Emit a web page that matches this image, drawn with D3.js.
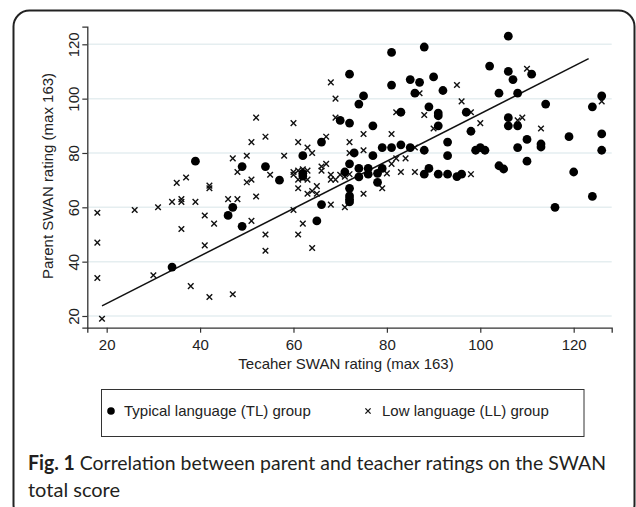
<!DOCTYPE html>
<html lang="en">
<head>
  <meta charset="UTF-8">
  <title>SWAN correlation</title>
  <style>
    body { margin: 0; background: #fff; }
    svg text { font-family: "Liberation Sans", Arial, sans-serif; fill: #222; }
    .caption { font-family: Lato, "Open Sans", sans-serif; font-size: 20px; fill: #231f20; }
  </style>
  <script src="https://cdn.jsdelivr.net/npm/d3@7"></script>
</head>
<body>
<svg id="chart" width="636" height="507"></svg>
<script>
// typical language group (TL), [teacher, parent]
var tlPoints = [
  [39, 77], [49, 75], [54, 75], [57, 70], [47, 60], [46, 57], [49, 53], [34, 38],
  [62, 79], [62, 72.5], [62, 71.5], [66, 84], [65, 55], [66, 61],
  [72, 109], [81, 117], [88, 119], [81, 105], [85, 107], [87, 106], [90, 108], [86, 102],
  [75, 101], [74, 98], [89, 97], [91, 94.7], [91, 93.7], [83, 95], [70, 92], [72, 91],
  [77, 90], [91, 90], [73, 80], [77, 79], [79, 82], [81, 82], [83, 83], [85, 82], [88, 81],
  [72, 76], [71, 73], [74, 74.3], [76, 74.3], [78, 72.5], [79, 74.3], [88, 72.2], [89, 74.3],
  [91, 72.2], [74, 71.2], [76, 72.2], [78, 69.2], [72, 67], [72, 64.2], [72, 63], [72, 62],
  [106, 123], [102, 112], [106, 110], [107, 107], [111, 109], [92, 103], [104, 102], [108, 102],
  [114, 98], [97, 95], [98, 88], [106, 93], [106, 90], [108, 90], [124, 97], [126, 101],
  [119, 86], [126, 87], [126, 81], [93, 84], [93, 79], [99, 81], [100, 82], [101, 81],
  [108, 82], [110, 85], [113, 83.3], [113, 82.2], [104, 75.3], [105, 74.1], [110, 77],
  [120, 73], [93, 72.2], [95, 71.3], [96, 72.2], [116, 60], [124, 64]
];

// low language group (LL), [teacher, parent]
var llPoints = [
  [60, 91], [52, 93], [54, 86], [51, 84], [50, 79], [47, 78], [48, 73], [55, 72],
  [51, 70.2], [50, 69.2], [37, 71], [35, 69], [42, 68], [42, 67], [52, 64], [46, 63],
  [48, 63], [36, 63], [36, 62], [34, 62], [39, 62], [31, 60], [26, 59], [18, 58],
  [41, 57], [43, 54], [51, 55], [36, 52], [18, 47], [41, 46], [54, 50], [54, 44],
  [61, 50], [62, 54], [64, 45], [60, 59], [61, 84], [63, 82], [64, 80], [58, 79],
  [60, 73], [60, 72], [61, 73.5], [63, 73.5], [62, 74], [61, 70.2], [63, 70.2], [62, 70.7],
  [61, 67], [63, 65], [64, 66], [65, 67.8], [65, 65], [18, 34], [30, 35], [38, 31],
  [42, 27], [47, 28], [19, 19], [68, 106], [69, 100], [69, 93], [67, 86], [75, 87],
  [81, 87], [72, 84], [72, 80], [75, 81], [66, 75], [67, 76], [66, 73.5], [68, 72],
  [68, 70.2], [69, 70.2], [70, 72], [71, 71.3], [72, 72.2], [68, 61], [71, 60], [75, 65],
  [79, 67], [80, 72.5], [81, 76], [82, 78], [84, 78], [83, 73], [86, 73], [82, 95],
  [88, 94], [87, 102], [90, 89], [95, 105], [96, 99], [98, 95], [100, 91], [108, 92],
  [109, 93], [113, 89], [110, 111], [126, 99], [98, 72.2], [86, 82]
];

// fitted line
var fitIntercept = 7.16, fitSlope = 0.873, fitRange = [19, 123.2];

var xTicks = [20, 40, 60, 80, 100, 120];
var yTicks = [20, 40, 60, 80, 100, 120];
var legendLabels = ["Typical language (TL) group", "Low language (LL) group"];
var xTitle = "Tecaher SWAN rating (max 163)";
var yTitle = "Parent SWAN rating (max 163)";

var svg = d3.select("#chart");

// rounded frame
svg.append("rect")
  .attr("x", 13.5).attr("y", 10.5)
  .attr("width", 621).attr("height", 510)
  .attr("rx", 16)
  .attr("fill", "none").attr("stroke", "#222").attr("stroke-width", 2);

var x = d3.scaleLinear().domain([15.85, 128.14]).range([87.3, 611.7]);
var y = d3.scaleLinear().domain([15.69, 126.48]).range([327.7, 26.7]);

// gridlines
svg.append("g").selectAll("line")
  .data(yTicks).enter().append("line")
  .attr("x1", x.range()[0]).attr("x2", x.range()[1])
  .attr("y1", function(d) { return y(d); })
  .attr("y2", function(d) { return y(d); })
  .attr("stroke", "#e5eef0").attr("stroke-width", 1.5);

// axes
var xAxis = svg.append("g")
  .attr("transform", "translate(0," + y.range()[0] + ")")
  .call(d3.axisBottom(x).tickValues(xTicks).tickSize(5).tickPadding(4));
var yAxis = svg.append("g")
  .attr("transform", "translate(" + x.range()[0] + ",0)")
  .call(d3.axisLeft(y).tickValues(yTicks).tickSize(5));

[xAxis, yAxis].forEach(function(a) {
  a.select(".domain").attr("stroke", "#333").attr("stroke-width", 1.3);
  a.selectAll(".tick line").attr("stroke", "#333").attr("stroke-width", 1.2);
  a.selectAll("text").attr("font-size", 15).attr("font-family", "Liberation Sans, Arial, sans-serif").attr("fill", "#222");
});
xAxis.selectAll(".tick text").attr("dy", "0.9em");
yAxis.selectAll(".tick text")
  .attr("x", null).attr("dy", null)
  .attr("text-anchor", "middle")
  .attr("transform", "translate(-8.8,0) rotate(-90)");

svg.append("text")
  .attr("x", 346).attr("y", 369)
  .attr("text-anchor", "middle").attr("font-size", 15)
  .text(xTitle);
svg.append("text")
  .attr("transform", "translate(53," + 176 + ") rotate(-90)")
  .attr("text-anchor", "middle").attr("font-size", 15)
  .text(yTitle);

// fitted line
svg.append("line")
  .attr("x1", x(fitRange[0])).attr("y1", y(fitIntercept + fitSlope * fitRange[0]))
  .attr("x2", x(fitRange[1])).attr("y2", y(fitIntercept + fitSlope * fitRange[1]))
  .attr("stroke", "#111").attr("stroke-width", 1.5);

function crossPath(s) {
  return "M" + (-s) + "," + (-s) + "L" + s + "," + s + "M" + (-s) + "," + s + "L" + s + "," + (-s);
}

// LL crosses
svg.append("g").selectAll("path")
  .data(llPoints).enter().append("path")
  .attr("transform", function(d) { return "translate(" + x(d[0]) + "," + y(d[1]) + ")"; })
  .attr("d", crossPath(2.8))
  .attr("stroke", "#111").attr("stroke-width", 1.4).attr("fill", "none");

// TL dots
svg.append("g").selectAll("circle")
  .data(tlPoints).enter().append("circle")
  .attr("cx", function(d) { return x(d[0]); })
  .attr("cy", function(d) { return y(d[1]); })
  .attr("r", 4.4)
  .attr("fill", "#000");

// legend
var legend = svg.append("g");
legend.append("rect")
  .attr("x", 101.5).attr("y", 389.5).attr("width", 482.5).attr("height", 47)
  .attr("fill", "none").attr("stroke", "#333").attr("stroke-width", 1);
legend.append("circle").attr("cx", 111).attr("cy", 411).attr("r", 3.8).attr("fill", "#000");
legend.append("text").attr("x", 124).attr("y", 416).attr("font-size", 15).text(legendLabels[0]);
legend.append("path")
  .attr("transform", "translate(368,411)")
  .attr("d", crossPath(2.6))
  .attr("stroke", "#111").attr("stroke-width", 1.3);
legend.append("text").attr("x", 382).attr("y", 416).attr("font-size", 15).text(legendLabels[1]);

// caption
var cap = svg.append("text").attr("class", "caption").attr("x", 28).attr("y", 470)
  .attr("textLength", 578).attr("lengthAdjust", "spacingAndGlyphs");
cap.append("tspan").attr("font-weight", "bold").text("Fig. 1");
cap.append("tspan").text(" Correlation between parent and teacher ratings on the SWAN");
svg.append("text").attr("class", "caption").attr("x", 28).attr("y", 497).text("total score");
</script>
</body>
</html>
